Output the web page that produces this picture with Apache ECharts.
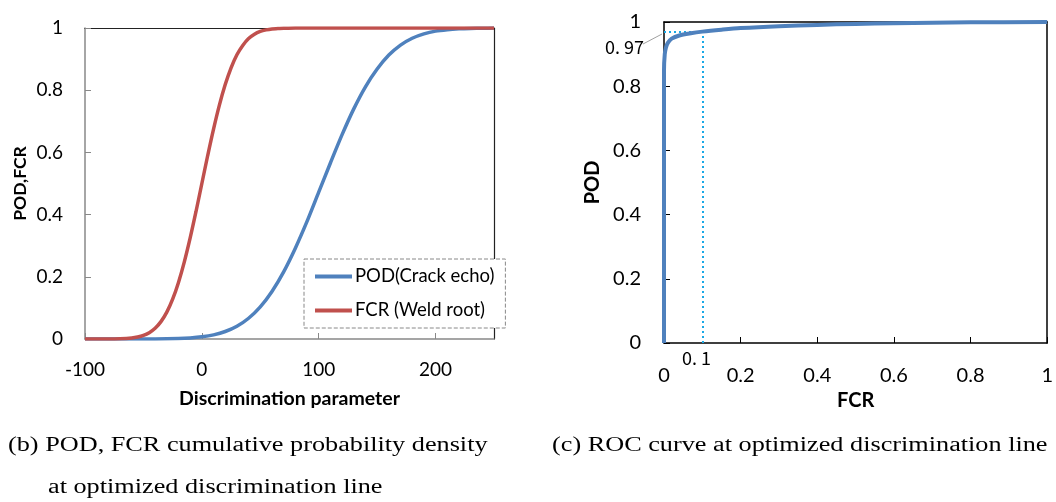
<!DOCTYPE html>
<html><head><meta charset="utf-8">
<script src="https://cdn.jsdelivr.net/npm/echarts@6/dist/echarts.min.js"></script>
<style>html,body{margin:0;padding:0;background:#fff}#c{width:1056px;height:502px}</style>
</head><body><div id="c"></div>
<script>
// Left panel (b): discrimination parameter vs cumulative probability
const fcrX = [-100,-80,-70,-60,-55,-50,-45,-40,-35,-30,-25,-20,-15,-10,-5,0,5,10,15,20,25,30,35,40,45,50,55,60,65,70,80,100,150,200,250];
const fcrY = [0,0.0001,0.0008,0.0032,0.0062,0.0115,0.0204,0.0345,0.0558,0.0863,0.128,0.182,0.248,0.325,0.41,0.5,0.59,0.675,0.752,0.818,0.872,0.914,0.944,0.966,0.98,0.989,0.994,0.997,0.998,0.999,1,1,1,1,1];
const podX = [-100,-60,-40,-20,-10,0,10,20,30,40,50,60,70,80,90,100,110,120,130,140,150,160,170,180,190,200,210,220,230,240,250];
const podY = [0,0.0001,0.0003,0.0017,0.0036,0.0071,0.0134,0.0241,0.0411,0.0668,0.1035,0.153,0.216,0.292,0.378,0.472,0.566,0.657,0.74,0.811,0.868,0.913,0.945,0.967,0.981,0.99,0.9946,0.9973,0.9987,0.9994,0.9998];
// Right panel (c): ROC curve
const rocFCR = [0,0,0,0.002,0.005,0.01,0.02,0.04,0.07,0.1,0.15,0.2,0.3,0.4,0.5,0.6,0.8,1];
const rocPOD = [0,0.5,0.85,0.9,0.92,0.935,0.948,0.958,0.965,0.97,0.976,0.981,0.987,0.991,0.994,0.996,0.999,1];
const leftTicks = {min:-100, max:250, interval:100};
const probTicks = {min:0, max:1, interval:0.2};
const optPoint = [0.1, 0.97];
const captions = ['(b) POD, FCR cumulative probability density','at optimized discrimination line','(c) ROC curve at optimized discrimination line'];

const zip = (a,b)=>a.map((v,i)=>[v,b[i]]);
const F = 'Lato, "Open Sans", sans-serif';
const JP = '"Noto Sans CJK JP", sans-serif';
const SERIF = '"Liberation Serif", serif';
const chart = echarts.init(document.getElementById('c'));
const lbl = (s)=>({color:'#000', fontSize:s, fontFamily:F});
const nameStyle = (s)=>({color:'#000', fontSize:s, fontWeight:'bold', fontFamily:F});
chart.setOption({
  animation:false,
  grid:[
    {left:85, right:562, top:28, bottom:163},
    {left:664, right:3, top:22, bottom:159}
  ],
  legend:{
    data:['POD(Crack echo)','FCR (Weld root)'],
    left:304, top:259, orient:'vertical',
    borderColor:'#888', borderWidth:1, borderType:'dashed', backgroundColor:'#fff',
    padding:[8,11,8,11], itemGap:15,
    itemWidth:37, itemHeight:4, icon:'rect',
    textStyle:{color:'#000', fontSize:18.5, fontFamily:F, padding:[0,0,0,-2]}
  },
  xAxis:[
    {gridIndex:0, type:'value', min:leftTicks.min, max:leftTicks.max, interval:leftTicks.interval,
     name:'Discrimination parameter', nameLocation:'middle', nameGap:50, nameTextStyle:nameStyle(19.5),
     axisLine:{onZero:false, lineStyle:{color:'#888', width:1.5}}, axisTick:{inside:true, length:6, lineStyle:{color:'#888'}},
     axisLabel:Object.assign({margin:21, showMaxLabel:false}, lbl(19)), splitLine:{show:false}},
    {gridIndex:0, type:'value', position:'top', min:leftTicks.min, max:leftTicks.max,
     axisLine:{onZero:false, lineStyle:{color:'#222', width:1.2}}, axisTick:{show:false}, axisLabel:{show:false}, splitLine:{show:false}},
    {gridIndex:1, type:'value', min:probTicks.min, max:probTicks.max, interval:probTicks.interval,
     name:'FCR', nameLocation:'middle', nameGap:44, nameTextStyle:nameStyle(20),
     axisLine:{onZero:false, lineStyle:{color:'#000', width:1.5}}, axisTick:{inside:true, length:6, lineStyle:{color:'#000'}},
     axisLabel:Object.assign({margin:23}, lbl(20)), splitLine:{show:false}},
    {gridIndex:1, type:'value', position:'top', min:0, max:1,
     axisLine:{onZero:false, lineStyle:{color:'#000', width:1.5}}, axisTick:{show:false}, axisLabel:{show:false}, splitLine:{show:false}}
  ],
  yAxis:[
    {gridIndex:0, type:'value', min:probTicks.min, max:probTicks.max, interval:probTicks.interval,
     name:'POD,FCR', nameLocation:'middle', nameGap:56, nameTextStyle:nameStyle(17.5),
     axisLine:{show:true, onZero:false, lineStyle:{color:'#888', width:1.5}}, axisTick:{show:true, inside:true, length:6, lineStyle:{color:'#888'}},
     axisLabel:Object.assign({margin:22}, lbl(19)), splitLine:{show:false}},
    {gridIndex:0, type:'value', position:'right', min:0, max:1,
     axisLine:{show:true, onZero:false, lineStyle:{color:'#222', width:1.2}}, axisTick:{show:false}, axisLabel:{show:false}, splitLine:{show:false}},
    {gridIndex:1, type:'value', min:probTicks.min, max:probTicks.max, interval:probTicks.interval,
     name:'POD', nameLocation:'middle', nameGap:61, nameTextStyle:nameStyle(20),
     axisLine:{show:true, onZero:false, lineStyle:{color:'#000', width:1.5}}, axisTick:{show:true, inside:true, length:6, lineStyle:{color:'#000'}},
     axisLabel:Object.assign({margin:23}, lbl(20)), splitLine:{show:false}},
    {gridIndex:1, type:'value', position:'right', min:0, max:1,
     axisLine:{show:true, onZero:false, lineStyle:{color:'#000', width:1.5}}, axisTick:{show:false}, axisLabel:{show:false}, splitLine:{show:false}}
  ],
  series:[
    {name:'POD(Crack echo)', type:'line', xAxisIndex:0, yAxisIndex:0, data:zip(podX,podY), smooth:0.3, showSymbol:false,
     lineStyle:{color:'#4F81BD', width:3.5}, itemStyle:{color:'#4F81BD'}},
    {name:'FCR (Weld root)', type:'line', xAxisIndex:0, yAxisIndex:0, data:zip(fcrX,fcrY), smooth:0.3, showSymbol:false,
     lineStyle:{color:'#C0504D', width:3.5}, itemStyle:{color:'#C0504D'}},
    {name:'ROC', type:'line', xAxisIndex:2, yAxisIndex:2, data:zip(rocFCR,rocPOD), smooth:0.3, showSymbol:false, z:3,
     lineStyle:{color:'#4F81BD', width:4}, itemStyle:{color:'#4F81BD'},
     markLine:{silent:true, symbol:'none', label:{show:false}, z:2,
       lineStyle:{color:'#1AA8E6', width:2, type:[2,3]},
       data:[
         [{coord:[0, optPoint[1]]},{coord:[optPoint[0], optPoint[1]]}],
         [{coord:[optPoint[0], 0]},{coord:[optPoint[0], optPoint[1]]}]
       ]}}
  ],
  graphic:[
    {type:'text', x:605, y:47, style:{text:'0. 97', fontSize:18, fill:'#000', fontFamily:JP, verticalAlign:'middle'}},
    {type:'line', shape:{x1:643, y1:44, x2:662, y2:34}, style:{stroke:'#888', lineWidth:0.8}},
    {type:'text', x:682, y:358, style:{text:'0. 1', fontSize:18, fill:'#000', fontFamily:JP, verticalAlign:'middle'}},
    {type:'text', x:8, y:446, scaleX:1.28, style:{text:captions[0], fontSize:20.5, fill:'#000', fontFamily:SERIF, verticalAlign:'middle'}},
    {type:'text', x:48, y:488, scaleX:1.28, style:{text:captions[1], fontSize:20.5, fill:'#000', fontFamily:SERIF, verticalAlign:'middle'}},
    {type:'text', x:552, y:446, scaleX:1.28, style:{text:captions[2], fontSize:20.5, fill:'#000', fontFamily:SERIF, verticalAlign:'middle'}}
  ]
});
</script></body></html>
